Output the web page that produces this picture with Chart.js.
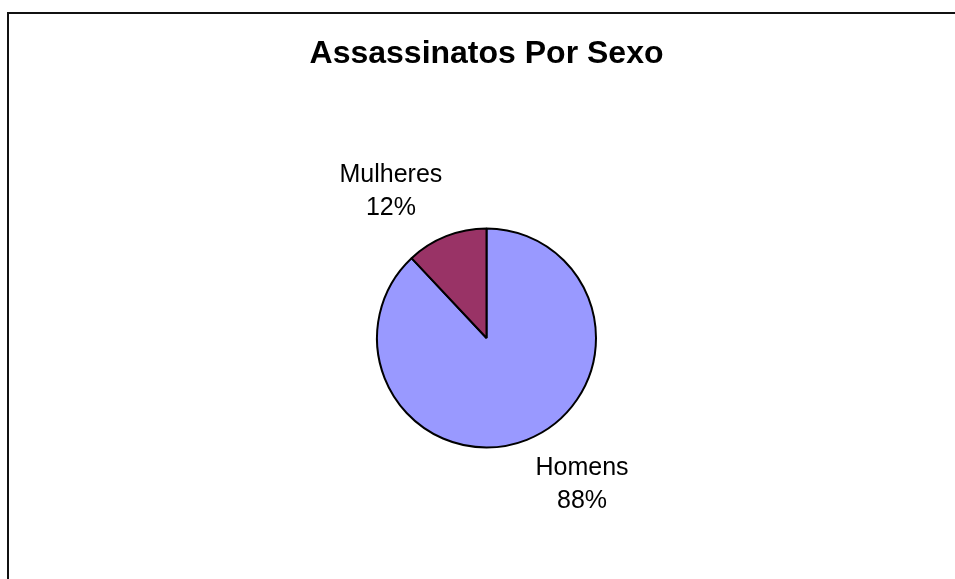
<!DOCTYPE html>
<html>
<head>
<meta charset="utf-8">
<script src="https://cdn.jsdelivr.net/npm/chart.js@4/dist/chart.umd.min.js"></script>
<style>
  html, body { margin: 0; padding: 0; background: #fff; overflow: hidden; }
  #frame { position: absolute; left: 7px; top: 12px; width: 2000px; height: 2000px; border: 2px solid #111; box-sizing: border-box; }
  #wrap { position: absolute; left: 0; top: 0; width: 955px; height: 579px; }
</style>
</head>
<body>
<div id="frame"></div>
<div id="wrap"><canvas id="c" width="955" height="579"></canvas></div>
<script>
const titleText = "Assassinatos Por Sexo";
const categories = ["Homens", "Mulheres"];
const values = [88, 12];
const percentLabels = ["88%", "12%"];
const colors = ["#9999FF", "#993366"];

const pieLabels = {
  id: 'pieLabels',
  afterDatasetsDraw(chart) {
    const ctx = chart.ctx;
    const meta = chart.getDatasetMeta(0);
    ctx.save();
    ctx.font = '25px "Liberation Sans", Arial, sans-serif';
    ctx.fillStyle = '#000';
    ctx.textAlign = 'center';
    ctx.textBaseline = 'middle';
    meta.data.forEach((arc, i) => {
      const p = arc.getProps(['x', 'y', 'startAngle', 'endAngle', 'outerRadius'], true);
      const mid = (p.startAngle + p.endAngle) / 2 - 0.2;
      const d = p.outerRadius * 1.6;
      const x = p.x + Math.cos(mid) * d;
      const y = p.y + Math.sin(mid) * d;
      ctx.fillText(categories[i], x, y - 16.5);
      ctx.fillText(percentLabels[i], x, y + 16.5);
    });
    ctx.restore();
  }
};

new Chart(document.getElementById('c'), {
  type: 'pie',
  data: {
    labels: categories,
    datasets: [{
      data: values,
      backgroundColor: colors,
      borderColor: '#000',
      borderWidth: 2
    }]
  },
  options: {
    responsive: false,
    animation: false,
    radius: 109.5,
    layout: { padding: { top: 0, left: 18, right: 0, bottom: 0 } },
    plugins: {
      legend: { display: false },
      tooltip: { enabled: false },
      title: {
        display: true,
        text: titleText,
        color: '#000',
        font: { family: '"Liberation Sans", Arial, sans-serif', size: 32, weight: 'bold', lineHeight: 1.2 },
        padding: { top: 34.8, bottom: 23.8 }
      }
    }
  },
  plugins: [pieLabels]
});
</script>
</body>
</html>
